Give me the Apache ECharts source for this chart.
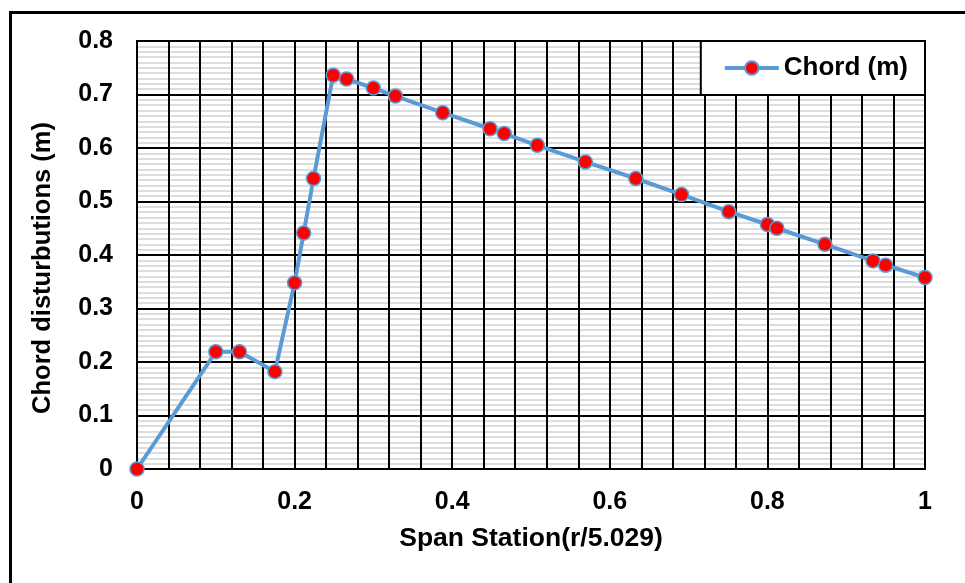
<!DOCTYPE html>
<html>
<head>
<meta charset="utf-8">
<script src="https://cdn.jsdelivr.net/npm/echarts@6/dist/echarts.min.js"></script>
<style>
  html, body { margin: 0; padding: 0; background: #fff; }
  #chart { width: 965px; height: 583px; }
</style>
</head>
<body>
<div id="chart"></div>
<script>
// span station (r/5.029)
const spanStation = [0, 0.1, 0.13, 0.175, 0.2, 0.2115, 0.224, 0.249, 0.266, 0.3, 0.328,
  0.388, 0.448, 0.466, 0.508, 0.569, 0.633, 0.691, 0.751, 0.8, 0.812, 0.873, 0.934, 0.95, 1.0];
// chord (m)
const chord = [0, 0.219, 0.219, 0.182, 0.348, 0.441, 0.543, 0.736, 0.729, 0.712, 0.697,
  0.666, 0.636, 0.627, 0.605, 0.574, 0.543, 0.513, 0.481, 0.457, 0.450, 0.420, 0.389, 0.381, 0.358];

const seriesData = spanStation.map((x, i) => [x, chord[i]]);

const font = '"Liberation Sans", Arial, sans-serif';
const chart = echarts.init(document.getElementById('chart'));

chart.setOption({
  animation: false,
  backgroundColor: '#fff',
  textStyle: { fontFamily: font },
  graphic: [
    // outer frame (left + top edges)
    { type: 'line', shape: { x1: 10.5, y1: 12.5, x2: 10.5, y2: 583 }, style: { stroke: '#000', lineWidth: 3 } },
    { type: 'line', shape: { x1: 9, y1: 12.5, x2: 965, y2: 12.5 }, style: { stroke: '#000', lineWidth: 3 } }
  ],
  grid: {
    left: 137, right: 40, top: 41, bottom: 114,
    show: true, borderColor: '#000', borderWidth: 2, backgroundColor: 'transparent'
  },
  legend: {
    right: 40, top: 41,
    backgroundColor: '#fff',
    borderColor: '#000', borderWidth: 2,
    padding: [14, 17, 14, 22],
    itemWidth: 54, itemHeight: 17, itemGap: 5,
    lineStyle: { width: 4 },
    textStyle: { fontFamily: font, fontWeight: 'bold', fontSize: 26, color: '#000' },
    data: ['Chord (m)']
  },
  xAxis: {
    type: 'value', min: 0, max: 1, interval: 0.2,
    name: 'Span Station(r/5.029)',
    nameLocation: 'middle', nameGap: 70,
    nameTextStyle: { fontFamily: font, fontWeight: 'bold', fontSize: 26.5, color: '#000', verticalAlign: 'middle' },
    axisLine: { lineStyle: { color: '#000', width: 2 } },
    axisTick: { show: false },
    axisLabel: { margin: 21, fontFamily: font, fontWeight: 'bold', fontSize: 25, color: '#000' },
    splitLine: { show: true, lineStyle: { color: '#000', width: 2 } },
    minorTick: { show: false, splitNumber: 5 },
    minorSplitLine: { show: true, lineStyle: { color: '#000', width: 2 } }
  },
  yAxis: {
    type: 'value', min: 0, max: 0.8, interval: 0.1,
    name: 'Chord disturbutions (m)',
    nameLocation: 'middle', nameGap: 94, nameRotate: 90,
    nameTextStyle: { fontFamily: font, fontWeight: 'bold', fontSize: 25.5, color: '#000', verticalAlign: 'middle', padding: [0, 26, 0, 0] },
    axisLine: { lineStyle: { color: '#000', width: 2 } },
    axisTick: { show: false },
    axisLabel: { margin: 24, fontFamily: font, fontWeight: 'bold', fontSize: 25, color: '#000' },
    splitLine: { show: true, lineStyle: { color: '#000', width: 2 } },
    minorTick: { show: false, splitNumber: 10 },
    minorSplitLine: { show: true, lineStyle: { color: '#dddddd', width: 2 } }
  },
  series: [{
    name: 'Chord (m)',
    type: 'line',
    data: seriesData,
    symbol: 'circle',
    symbolSize: 14,
    lineStyle: { color: '#5b9bd5', width: 4 },
    itemStyle: { color: '#ff0000', borderColor: '#5b9bd5', borderWidth: 1.5 },
    z: 5
  }]
});
</script>
</body>
</html>
